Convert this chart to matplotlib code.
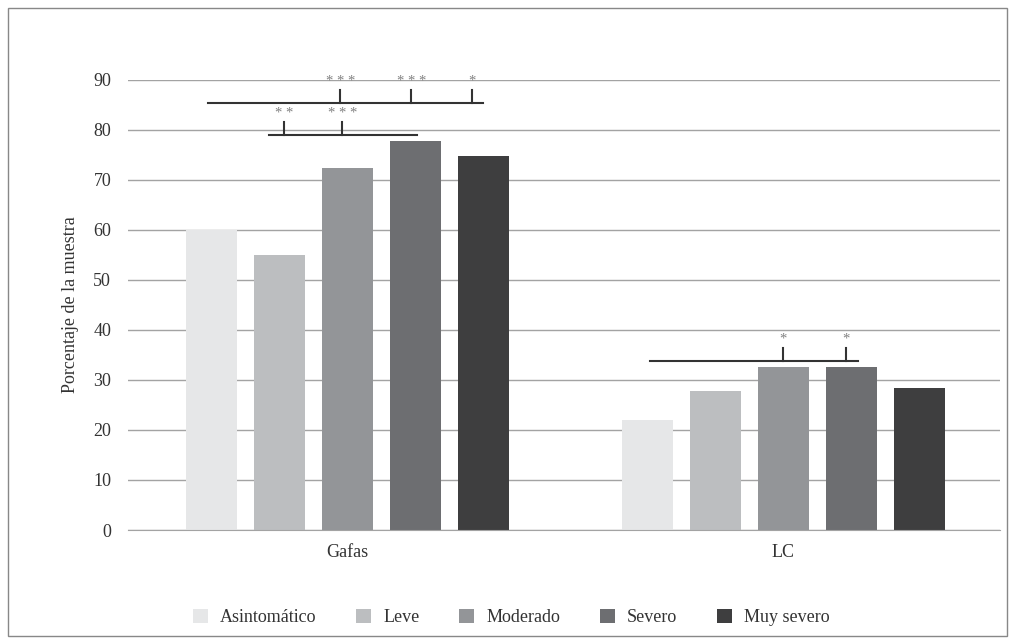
import numpy as np
import matplotlib
matplotlib.use("Agg")
import matplotlib.pyplot as plt
from matplotlib.patches import Rectangle

plt.rcParams['font.family'] = ['Liberation Serif', 'DejaVu Serif']

groups = ['Gafas', 'LC']
severity = ['Asintomático', 'Leve', 'Moderado', 'Severo', 'Muy severo']
values = [
    [60.0, 22.0],
    [55.0, 27.8],
    [72.4, 32.6],
    [77.8, 32.6],
    [74.8, 28.4],
]
colors = ['#e6e7e8', '#bcbec0', '#939598', '#6d6e71', '#3e3e3f']

# significance brackets: (bar level, x start, x end, tick positions, labels)
brackets = [
    (85.4, -0.319, 0.312, [-0.016, 0.147, 0.287], ['***', '***', '*']),
    (79.0, -0.179, 0.161, [-0.144, -0.011], ['**', '***']),
    (33.8, 0.695, 1.172, [1.0, 1.144], ['*', '*']),
]

fig = plt.figure(figsize=(10.15, 6.44), dpi=100)
ax = fig.add_axes([0.126, 0.177, 0.859, 0.699])

x = np.arange(len(groups))
step = 0.156
width = 0.117
for i, name in enumerate(severity):
    ax.bar(x + (i - 2) * step, values[i], width, color=colors[i], label=name, zorder=2)

ax.set_xlim(-0.503, 1.497)
ax.set_ylim(0, 90)
ax.set_yticks(range(0, 91, 10))
ax.yaxis.grid(True, color='#a3a3a3', linewidth=1.0, zorder=0)
ax.set_axisbelow(True)
for s in ['top', 'right', 'left']:
    ax.spines[s].set_visible(False)
ax.spines['bottom'].set_color('#a3a3a3')
ax.tick_params(axis='both', length=0, labelsize=13, colors='#333333', pad=10)
ax.tick_params(axis='y', pad=12)
ax.set_xticks(x)
ax.set_xticklabels(groups)
ax.set_ylabel('Porcentaje de la muestra', fontsize=13, color='#333333', labelpad=10)

for level, x0, x1, ticks, labs in brackets:
    ax.plot([x0, x1], [level, level], color='#333333', lw=1.5, clip_on=False, zorder=3)
    for t, lab in zip(ticks, labs):
        ax.plot([t, t], [level, level + 2.6], color='#333333', lw=1.5, clip_on=False, zorder=3)
        ax.text(t, level + 3.0, ' '.join(lab), ha='center', va='bottom', fontsize=10.5,
                color='#808080', clip_on=False)

ax.legend(loc='upper center', bbox_to_anchor=(0.44, -0.14), ncol=5, frameon=False,
          fontsize=13, handlelength=0.8, handleheight=0.8, columnspacing=2.2,
          handletextpad=0.7, labelcolor='#333333')

fig.patches.append(Rectangle((0.008, 0.012), 0.984, 0.976, transform=fig.transFigure,
                             fill=False, edgecolor='#888888', linewidth=1.0))

fig.savefig('out.png', dpi=100)
